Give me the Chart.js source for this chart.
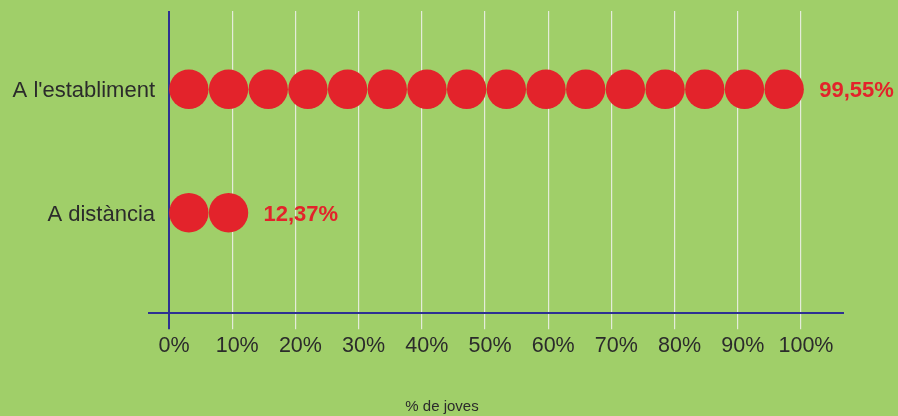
<!DOCTYPE html>
<html>
<head>
<meta charset="utf-8">
<script src="https://cdn.jsdelivr.net/npm/chart.js@4/dist/chart.umd.min.js"></script>
<style>
  body { margin: 0; background: #a0cf69; }
  #wrap { width: 898px; height: 416px; }
</style>
</head>
<body>
<div id="wrap"><canvas id="chart-area" width="898" height="416"></canvas></div>
<script>
var categories = ["A l'establiment", "A distància"];
var values = [99.55, 12.37];
var xTicks = [0, 10, 20, 30, 40, 50, 60, 70, 80, 90, 100];
var axisTitle = "% de joves";
var dotUnit = 6.28; // each dot stands for about 1/16 of the scale

var red = "#e3232b";
var blue = "#2e3192";
var textColor = "#2b2b2b";
var font = "'Liberation Sans', Arial, Helvetica, sans-serif";

// one dot per unit, placed along the row of its category
var points = [];
var lastDot = [];
values.forEach(function (v, row) {
  var n = Math.round(v / dotUnit);
  for (var i = 0; i < n; i++) {
    points.push({ x: (i + 0.5) * dotUnit, y: row });
  }
  lastDot.push((n - 0.5) * dotUnit);
});

function fmt(v) {
  return v.toFixed(2).replace(".", ",") + "%";
}

var labelsPlugin = {
  id: "rowLabels",
  afterDraw: function (chart) {
    var ctx = chart.ctx;
    var xs = chart.scales.x, ys = chart.scales.y;
    ctx.save();
    ctx.textBaseline = "middle";
    categories.forEach(function (c, row) {
      var y = ys.getPixelForValue(row);
      ctx.fillStyle = textColor;
      ctx.font = "22px " + font;
      ctx.textAlign = "right";
      ctx.fillText(c, 155, y + 2);
      ctx.fillStyle = red;
      ctx.font = "bold 22px " + font;
      ctx.textAlign = "left";
      ctx.fillText(fmt(values[row]), xs.getPixelForValue(lastDot[row]) + 20 + 15, y + 2);
    });
    ctx.fillStyle = textColor;
    ctx.font = "15px " + font;
    ctx.textAlign = "center";
    ctx.fillText(axisTitle, 442, 407);
    ctx.restore();
  }
};

var config = {
  type: "scatter",
  data: {
    datasets: [{
      data: points,
      backgroundColor: red,
      borderWidth: 0,
      pointRadius: 19.7,
      pointHoverRadius: 19.7
    }]
  },
  options: {
    responsive: false,
    animation: false,
    events: [],
    layout: { autoPadding: false, padding: { left: 149, right: 55, top: 11, bottom: 53 } },
    plugins: { legend: { display: false }, tooltip: { enabled: false } },
    scales: {
      x: {
        type: "linear",
        min: -3.165,
        max: 106.65,
        afterBuildTicks: function (axis) {
          axis.ticks = xTicks.map(function (v) { return { value: v }; });
        },
        grid: {
          color: function (c) { return c.tick && c.tick.value === 0 ? blue : "#e4ecda"; },
          lineWidth: function (c) { return c.tick && c.tick.value === 0 ? 2 : 1.2; },
          tickLength: 16
        },
        border: { display: true, color: blue, width: 2 },
        ticks: {
          color: textColor,
          font: { family: font, size: 21.5 },
          padding: 4,
          labelOffset: 5,
          callback: function (v) { return v + "%"; }
        }
      },
      y: {
        type: "linear",
        display: false,
        reverse: true,
        min: -0.634,
        max: 1.813
      }
    }
  },
  plugins: [labelsPlugin]
};

window.onload = function () {
  var ctx = document.getElementById("chart-area").getContext("2d");
  window.myChart = new Chart(ctx, config);
};
</script>
</body>
</html>
